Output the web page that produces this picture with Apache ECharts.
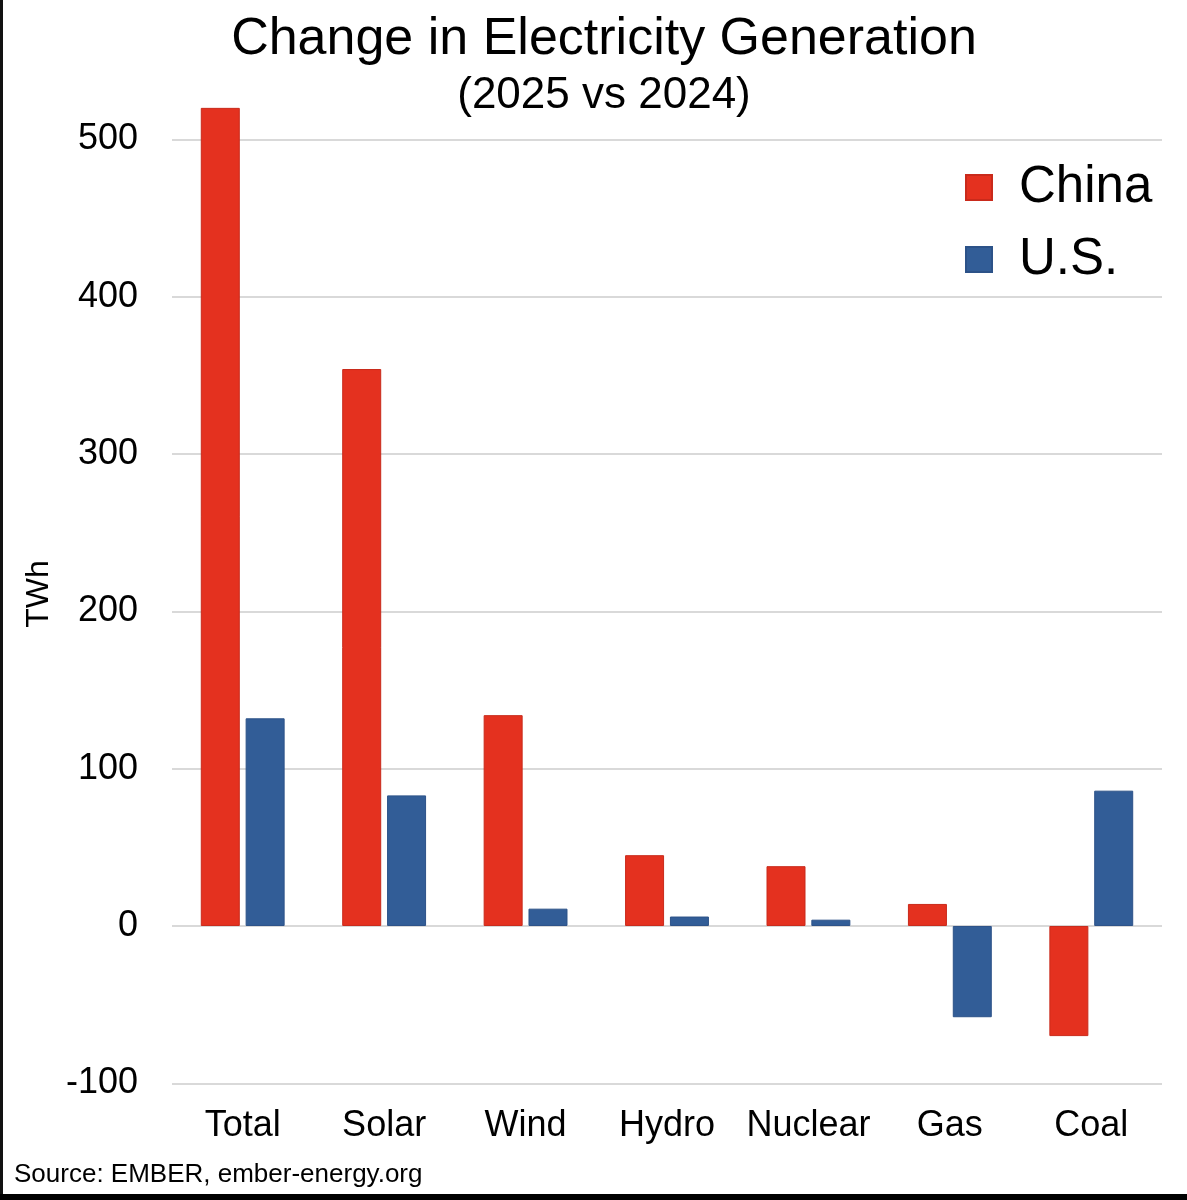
<!DOCTYPE html>
<html>
<head>
<meta charset="utf-8">
<script src="https://cdn.jsdelivr.net/npm/echarts@6/dist/echarts.min.js"></script>
<style>
  html, body { margin: 0; padding: 0; background: #fff; }
  #wrap { position: relative; width: 1187px; height: 1200px; overflow: hidden; }
  #chart { position: absolute; left: 0; top: -18px; width: 1187px; height: 1218px; }
  #bl { position: absolute; left: 0; top: 0; width: 3px; height: 1200px; background: #111; z-index: 5; }
  #bb { position: absolute; left: 0; top: 1194px; width: 1187px; height: 6px; background: #000; z-index: 5; }
</style>
</head>
<body>
<div id="wrap">
  <div id="chart"></div>
  <div id="bl"></div>
  <div id="bb"></div>
</div>
<script>
const categories = ['Total', 'Solar', 'Wind', 'Hydro', 'Nuclear', 'Gas', 'Coal'];
const chinaValues = [520, 354, 134, 45, 38, 14, -70];
const usValues = [132, 83, 11, 6, 4, -58, 86];
const seriesNames = ['China', 'U.S.'];
const titleText = 'Change in Electricity Generation';
const subtitleText = '(2025 vs 2024)';
const yAxisTitle = 'TWh';
const sourceText = 'Source: EMBER, ember-energy.org';

const FONT = '"Liberation Sans", Arial, Helvetica, sans-serif';
const OFF = 18; // chart canvas is shifted up by this many px
const chart = echarts.init(document.getElementById('chart'), null, { renderer: 'canvas' });

chart.setOption({
  backgroundColor: '#ffffff',
  animation: false,
  textStyle: { fontFamily: FONT },
  grid: { left: 172, right: 25, top: 0, bottom: 1218 - 1083.3 - OFF, containLabel: false },
  legend: {
    orient: 'vertical',
    left: 965,
    top: 162 + OFF,
    padding: 0,
    itemWidth: 26,
    itemHeight: 25,
    itemGap: 21,
    icon: 'rect',
    textStyle: { fontSize: 51, lineHeight: 50, color: '#000', fontFamily: FONT, padding: [0, 0, 0, 22] },
    data: seriesNames
  },
  xAxis: {
    type: 'category',
    data: categories,
    axisLine: { show: false },
    axisTick: { show: false },
    splitLine: { show: false },
    axisLabel: { fontSize: 36, color: '#000', margin: 25, fontFamily: FONT, interval: 0 }
  },
  yAxis: {
    type: 'value',
    min: -100,
    max: 600,
    interval: 100,
    axisLine: { show: false },
    axisTick: { show: false },
    axisLabel: { fontSize: 36, color: '#000', margin: 34, fontFamily: FONT, showMaxLabel: false },
    splitLine: { lineStyle: { color: '#d9d9d9', width: 2 } }
  },
  series: [
    {
      name: seriesNames[0],
      type: 'bar',
      data: chinaValues,
      barWidth: 39,
      barGap: '15%',
      itemStyle: { color: '#E4311F', borderColor: '#c92a1b', borderWidth: 1 }
    },
    {
      name: seriesNames[1],
      type: 'bar',
      data: usValues,
      barWidth: 39,
      barGap: '15%',
      itemStyle: { color: '#325D97', borderColor: '#2c5288', borderWidth: 1 }
    }
  ],
  graphic: [
    { type: 'text', x: 604, y: 14 + OFF, style: { text: titleText, font: '52px ' + FONT, fill: '#000', align: 'center' } },
    { type: 'text', x: 604, y: 74 + OFF, style: { text: subtitleText, font: '44px ' + FONT, fill: '#000', align: 'center' } },
    { type: 'text', x: 39, y: 594 + OFF, rotation: Math.PI / 2, style: { text: yAxisTitle, font: '32px ' + FONT, fill: '#000', align: 'center', verticalAlign: 'middle' } },
    { type: 'text', x: 14, y: 1162 + OFF, style: { text: sourceText, font: '26px ' + FONT, fill: '#000' } }
  ]
});
</script>
</body>
</html>
